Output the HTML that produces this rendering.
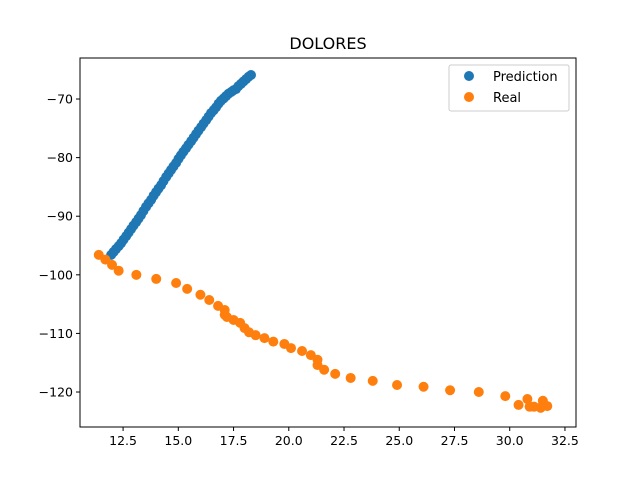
<!DOCTYPE html>
<html><head><meta charset="utf-8"><style>
body{margin:0;background:#fff;font-family:"Liberation Sans","DejaVu Sans",sans-serif}
svg text{font-family:"DejaVu Sans","Liberation Sans",sans-serif}
</style></head><body>
<svg id="chart" width="640" height="480" xmlns="http://www.w3.org/2000/svg">
<rect width="640" height="480" fill="#fff"/>
<text x="328" y="49" font-size="16" text-anchor="middle">DOLORES</text>
<g id="marks"></g>
<rect x="80" y="58" width="496" height="369" fill="none" stroke="#000" stroke-width="1"/>
<g id="axes"></g>
<g>
<rect x="449" y="65" width="120" height="46" rx="2" fill="#fff" fill-opacity="0.8" stroke="#ccc"/>
<circle cx="469" cy="76" r="5" fill="#1f77b4"/>
<text x="493" y="81" font-size="13">Prediction</text>
<circle cx="469" cy="97" r="5" fill="#ff7f0e"/>
<text x="493" y="102" font-size="13">Real</text>
</g>
</svg>
<script>
const predX=[11.96,12.07,12.18,12.30,12.41,12.52,12.64,12.75,12.86,12.97,13.09,13.20,13.31,13.42,13.54,13.65,13.77,13.88,13.99,14.10,14.22,14.33,14.45,14.56,14.67,14.78,14.90,15.01,15.12,15.23,15.35,15.46,15.58,15.69,15.80,15.91,16.03,16.14,16.26,16.37,16.48,16.60,16.71,16.82,16.93,17.05,17.16,17.27,17.39,17.50,17.61,17.72,17.84,17.95,18.07,18.18,18.29];
const predY=[-96.6,-96.1,-95.6,-95.1,-94.6,-94.0,-93.4,-92.8,-92.2,-91.6,-91.0,-90.4,-89.8,-89.1,-88.4,-87.8,-87.2,-86.5,-85.9,-85.3,-84.7,-84.0,-83.3,-82.7,-82.1,-81.5,-80.9,-80.2,-79.6,-79.0,-78.4,-77.8,-77.2,-76.6,-76.0,-75.4,-74.8,-74.2,-73.6,-73.0,-72.4,-71.9,-71.4,-70.8,-70.3,-69.9,-69.5,-69.1,-68.8,-68.5,-68.3,-67.8,-67.4,-67.0,-66.6,-66.2,-65.9];
const realX=[11.4,11.7,12.0,12.3,13.1,14.0,14.9,15.4,16.0,16.4,16.8,17.1,17.1,17.2,17.5,17.8,18.0,18.2,18.5,18.9,19.3,19.8,20.1,20.6,21.0,21.3,21.3,21.6,22.1,22.8,23.8,24.9,26.1,27.3,28.6,29.8,30.4,30.8,30.9,31.1,31.4,31.5,31.7,31.5];
const realY=[-96.6,-97.4,-98.3,-99.3,-100.0,-100.7,-101.4,-102.4,-103.4,-104.3,-105.3,-106.0,-106.8,-107.2,-107.7,-108.2,-109.1,-109.8,-110.3,-110.8,-111.4,-111.8,-112.5,-113.0,-113.7,-114.5,-115.4,-116.2,-116.9,-117.6,-118.1,-118.8,-119.1,-119.7,-120.0,-120.7,-122.2,-121.2,-122.5,-122.5,-122.7,-121.5,-122.4,-122.2];
const xTicks=[12.5,15.0,17.5,20.0,22.5,25.0,27.5,30.0,32.5];
const yTicks=[-120,-110,-100,-90,-80,-70];
const xMin=10.55,xMax=33.0,yMin=-125.97,yMax=-63.0;
const L=80,R=576,T=58,B=427;
const sx=v=>L+(v-xMin)/(xMax-xMin)*(R-L);
const sy=v=>B-(v-yMin)/(yMax-yMin)*(B-T);
const NS="http://www.w3.org/2000/svg";
const marks=document.getElementById('marks'),axes=document.getElementById('axes');
function dots(xs,ys,color,name){
 for(let i=0;i<xs.length;i++){
  const c=document.createElementNS(NS,'circle');
  c.setAttribute('cx',sx(xs[i]));c.setAttribute('cy',sy(ys[i]));c.setAttribute('r',5);c.setAttribute('fill',color);
  
  
  marks.appendChild(c);
 }
}
dots(predX,predY,'#1f77b4','prediction-point');
dots(realX,realY,'#ff7f0e','real-point');
xTicks.forEach(t=>{
 const x=sx(t);
 const l=document.createElementNS(NS,'line');
 l.setAttribute('x1',x);l.setAttribute('x2',x);l.setAttribute('y1',B);l.setAttribute('y2',B+4);l.setAttribute('stroke','#000');
 
 
 axes.appendChild(l);
 const s=document.createElementNS(NS,'text');
 s.setAttribute('x',x);s.setAttribute('y',B+18);s.setAttribute('font-size','12.5');s.setAttribute('text-anchor','middle');
 s.textContent=t.toFixed(1);
 
 
 axes.appendChild(s);
});
yTicks.forEach(t=>{
 const y=sy(t);
 const l=document.createElementNS(NS,'line');
 l.setAttribute('x1',L-4);l.setAttribute('x2',L);l.setAttribute('y1',y);l.setAttribute('y2',y);l.setAttribute('stroke','#000');
 
 
 axes.appendChild(l);
 const s=document.createElementNS(NS,'text');
 s.setAttribute('x',L-7);s.setAttribute('y',y+4.5);s.setAttribute('font-size','12.5');s.setAttribute('text-anchor','end');
 s.textContent='\u2212'+Math.abs(t);
 
 
 axes.appendChild(s);
});
</script>
</body></html>
